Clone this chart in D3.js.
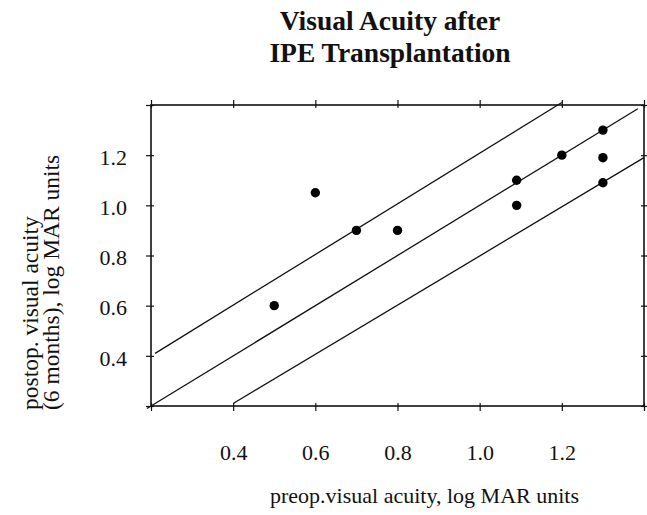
<!DOCTYPE html>
<html>
<head>
<meta charset="utf-8">
<script src="https://cdn.jsdelivr.net/npm/d3@7"></script>
<style>
body { margin: 0; background: #fff; }
text { font-family: "Liberation Serif", "Times New Roman", serif; fill: #111; }
</style>
</head>
<body>
<script>
// data
var preop  = [0.5, 0.6, 0.7, 0.8, 1.09, 1.09, 1.2, 1.3, 1.3, 1.3]
var postop = [0.6, 1.05, 0.9, 0.9, 1.1, 1.0, 1.2, 1.3, 1.19, 1.09]

// reference lines (start / end points, log MAR)
var upperLine  = [[0.21, 0.41], [1.2, 1.41]]
var middleLine = [[0.19, 0.19], [1.385, 1.385]]
var lowerLine  = [[0.4, 0.21], [1.4, 1.19]]

var majorTicks = [0.2, 0.4, 0.6, 0.8, 1.0, 1.2, 1.4]
var minorTicks = d3.range(0.2, 1.4001, 0.05)
var xTickLabels = [0.4, 0.6, 0.8, 1.0, 1.2]
var yTickLabels = [0.4, 0.6, 0.8, 1.0, 1.2]

var titleLines = ['Visual Acuity after', 'IPE Transplantation']
var xTitle = 'preop.visual acuity, log MAR units'
var yTitle = ['postop. visual acuity', '(6 months), log MAR units']

// Variables
var W = 647, H = 515
var margin = {top: 105, left: 151}
var w = 493, h = 301
var fmt = d3.format('.1f')

var svg = d3.select('body').append('svg')
	.attr('width', W)
	.attr('height', H)

var g = svg.append('g')
	.attr('transform', 'translate(' + margin.left + ',' + margin.top + ')')

// Scales
var xScale = d3.scaleLinear().domain([0.2, 1.4]).range([0, w])
var yScale = d3.scaleLinear().domain([0.2, 1.4]).range([h, 0])

// ticks on all four sides
function ticks(axisFn, scale, tf) {
	var a = g.append('g').attr('transform', tf)
	a.call(axisFn(scale).tickValues(minorTicks).tickSize(3).tickFormat(''))
	a.call(axisFn(scale).tickValues(majorTicks).tickSize(5).tickFormat(''))
	var b = g.append('g').attr('transform', tf)
	b.call(axisFn(scale).tickValues(majorTicks).tickSize(-3).tickFormat(''))
	g.selectAll('.domain').remove()
}
ticks(d3.axisBottom, xScale, 'translate(0,' + h + ')')
ticks(d3.axisTop, xScale, 'translate(0,0)')
ticks(d3.axisLeft, yScale, 'translate(0,0)')
ticks(d3.axisRight, yScale, 'translate(' + w + ',0)')
g.selectAll('.tick line').attr('stroke', '#111').attr('stroke-width', 1.2)

// frame
g.append('rect')
	.attr('width', w)
	.attr('height', h)
	.attr('fill', 'none')
	.attr('stroke', '#111')
	.attr('stroke-width', 1.6)

// tick labels
var xl = g.append('g')
	.attr('transform', 'translate(0,' + h + ')')
	.call(d3.axisBottom(xScale).tickValues(xTickLabels).tickSize(0).tickPadding(38).tickFormat(fmt))
var yl = g.append('g')
	.call(d3.axisLeft(yScale).tickValues(yTickLabels).tickSize(0).tickPadding(24).tickFormat(fmt))
xl.select('.domain').remove()
yl.select('.domain').remove()
xl.selectAll('text').attr('font-size', 22).attr('font-family', 'Liberation Serif').attr('fill', '#222')
yl.selectAll('text').attr('font-size', 22).attr('font-family', 'Liberation Serif').attr('fill', '#222').attr('dy', '0.42em')

// reference lines
var line = d3.line()
	.x(function (d) {return xScale(d[0])})
	.y(function (d) {return yScale(d[1])})
g.selectAll('path.ref')
	.data([upperLine, middleLine, lowerLine])
	.enter()
	.append('path')
	.attr('class', 'ref')
	.attr('d', line)
	.attr('fill', 'none')
	.attr('stroke', '#111')
	.attr('stroke-width', 1.3)

// points
g.selectAll('circle')
	.data(preop)
	.enter()
	.append('circle')
	.attr('cx', function (d) {return xScale(d)})
	.attr('cy', function (d, i) {return yScale(postop[i])})
	.attr('r', 4.7)
	.attr('fill', '#000')

// titles
svg.append('text')
	.attr('x', 390)
	.attr('y', 30)
	.attr('text-anchor', 'middle')
	.attr('font-size', 27.5)
	.attr('font-weight', 'bold')
	.selectAll('tspan')
	.data(titleLines)
	.enter()
	.append('tspan')
	.attr('x', 390)
	.attr('dy', function (d, i) {return i == 0 ? 0 : 32})
	.text(function (d) {return d})

svg.append('text')
	.attr('x', 270)
	.attr('y', 503)
	.attr('font-size', 22)
	.text(xTitle)

svg.selectAll('text.ytitle')
	.data(yTitle)
	.enter()
	.append('text')
	.attr('class', 'ytitle')
	.attr('transform', function (d, i) {return 'translate(' + (38 + i * 21) + ',410) rotate(-90)'})
	.attr('font-size', 23.5)
	.text(function (d) {return d})
</script>
</body>
</html>
